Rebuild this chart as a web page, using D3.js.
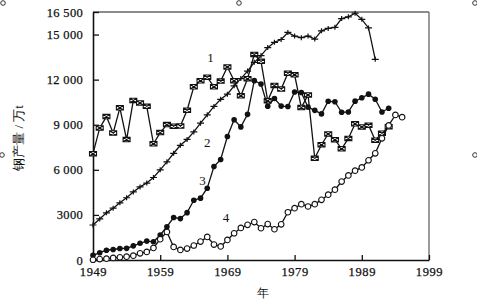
<!DOCTYPE html>
<html>
<head>
<meta charset="utf-8">
<script src="https://cdn.jsdelivr.net/npm/d3@7"></script>
<style>
  body { margin: 0; background: #fff; }
  svg { display: block; }
  text { font-family: "Liberation Serif", "DejaVu Serif", serif; fill: #111; }
</style>
</head>
<body>
<svg id="chart" width="477" height="308"></svg>
<script>
// steel output, 10k tonnes, one value per year from 1949
const startYear = 1949;
const usa = [7074, 8785, 9543, 8452, 10125, 8010, 10617, 10452, 10225, 7734,
  8477, 9007, 8904, 8915, 9962, 11526, 11926, 12165, 11526, 11901,
  12844, 11931, 10926, 12063, 13680, 13220, 10594, 11612, 11370, 12432,
  12323, 10145, 10985, 6766, 7670, 8390, 8007, 7401, 8088, 9060,
  8852, 8973, 7974, 8432, 8870];
const ussr = [2330, 2733, 3136, 3449, 3806, 4143, 4527, 4863, 5118, 5489,
  5998, 6529, 7100, 7630, 8023, 8520, 9102, 9660, 10220, 10690,
  11030, 11589, 12070, 12570, 13150, 13600, 14130, 14480, 14670, 15140,
  14900, 14790, 14900, 14700, 15250, 15410, 15480, 16060, 16180, 16420,
  16010, 15440, 13350];
const japan = [311, 484, 650, 699, 766, 775, 941, 1111, 1257, 1212,
  1663, 2214, 2827, 2755, 3150, 3980, 4116, 4778, 6215, 6689,
  8217, 9332, 8856, 9690, 11932, 11713, 10231, 10740, 10240, 10210,
  11175, 11140, 10168, 9955, 9722, 10559, 10528, 9828, 9851, 10568,
  10791, 11034, 10700, 9850, 10100];
const china = [16, 61, 90, 135, 177, 223, 285, 447, 535, 800,
  1387, 1866, 870, 667, 762, 964, 1223, 1532, 1029, 904,
  1333, 1779, 2132, 2338, 2522, 2112, 2390, 2046, 2374, 3178,
  3448, 3712, 3560, 3716, 4002, 4347, 4679, 5221, 5628, 5943,
  6159, 6635, 7100, 8094, 8956, 9650, 9500];

const yTicks = [0, 3000, 6000, 9000, 12000, 15000, 16500];
const yTickLabels = ["0", "3000", "6 000", "9 000", "12 000", "15 000", "16 500"];
const xTicks = [1949, 1959, 1969, 1979, 1989, 1999];
const seriesLabels = [
  {name: "1", year: 1966.5, value: 13200},
  {name: "2", year: 1966, value: 7500},
  {name: "3", year: 1965.3, value: 5000},
  {name: "4", year: 1968.8, value: 2550}
];

const svg = d3.select("#chart");
const x0 = 93, x1 = 429, y0 = 260, y1 = 12;

let x = d3.scaleLinear().domain([1949, 1999]).range([x0, x1]);
let y = d3.scaleLinear().domain([0, 16500]).range([y0, y1]);

// frame
svg.append("line").attr("x1", x0).attr("x2", x1).attr("y1", y1).attr("y2", y1)
    .attr("stroke", "#666").attr("stroke-width", 1.3);
svg.append("line").attr("x1", x1).attr("x2", x1).attr("y1", y1).attr("y2", y0)
    .attr("stroke", "#666").attr("stroke-width", 1.3);

let yAxis = d3.axisLeft(y).tickValues(yTicks).tickSizeInner(-6).tickSizeOuter(0)
    .tickPadding(10).tickFormat((d, i) => yTickLabels[i]);
let gy = svg.append("g").attr("transform", "translate(" + x0 + ",0)").call(yAxis);
gy.select(".domain").attr("stroke", "#111").attr("stroke-width", 1.6);
gy.selectAll(".tick line").attr("stroke", "#111").attr("stroke-width", 1.3);
gy.selectAll("text").attr("font-size", 12.5).attr("letter-spacing", "0.3px")
    .attr("fill", "#111").attr("stroke", "#111").attr("stroke-width", 0.25);

let xAxis = d3.axisBottom(x).tickValues(xTicks).tickSizeInner(-5).tickSizeOuter(0)
    .tickPadding(7).tickFormat(d3.format("d"));
let gx = svg.append("g").attr("transform", "translate(0," + y0 + ")").call(xAxis);
gx.select(".domain").attr("stroke", "#111").attr("stroke-width", 1.6);
gx.selectAll(".tick line").attr("stroke", "#111").attr("stroke-width", 1.3);
gx.selectAll("text").attr("font-size", 12.5).attr("letter-spacing", "0.6px")
    .attr("fill", "#111").attr("stroke", "#111").attr("stroke-width", 0.25);

// axis titles
svg.append("text").attr("x", 263).attr("y", 297).attr("text-anchor", "middle")
    .attr("font-size", 12).text("年");
svg.append("text").attr("transform", "translate(23,138) rotate(-90)")
    .attr("text-anchor", "middle").attr("font-size", 13).text("钢产量 / 万t");

function toPoints(values) {
    return values.map((v, i) => [startYear + i, v]);
}
let line = d3.line().x(d => x(d[0])).y(d => y(d[1]));

function drawSeries(values, marker) {
    let pts = toPoints(values);
    let g = svg.append("g");
    g.append("path").datum(pts).attr("d", line)
        .attr("fill", "none").attr("stroke", "#111").attr("stroke-width", 1.3);
    g.selectAll("g.m").data(pts).join("g")
        .attr("transform", d => "translate(" + x(d[0]) + "," + y(d[1]) + ")")
        .each(function() { marker(d3.select(this)); });
}

// 1: boxed cross
drawSeries(usa, m => {
    m.append("path").attr("d", "M-3.5,-2.2H3.5V2.2H-3.5Z M-3.5,-2.2L3.5,2.2 M-3.5,2.2L3.5,-2.2")
        .attr("fill", "#fff").attr("stroke", "#111").attr("stroke-width", 1.1);
});
// 2: plus
drawSeries(ussr, m => {
    m.append("path").attr("d", "M-3.5,0H3.5 M0,-2.5V2.5")
        .attr("stroke", "#111").attr("stroke-width", 1.2);
});
// 3: filled dot
drawSeries(japan, m => {
    m.append("circle").attr("r", 2.8).attr("fill", "#111");
});
// 4: open dot
drawSeries(china, m => {
    m.append("circle").attr("r", 2.8).attr("fill", "#fff")
        .attr("stroke", "#111").attr("stroke-width", 1.1);
});

svg.selectAll("text.lab").data(seriesLabels).join("text")
    .attr("class", "lab")
    .attr("x", d => x(d.year)).attr("y", d => y(d.value))
    .attr("text-anchor", "middle").attr("font-size", 13)
    .attr("fill", "#111")
    .text(d => d.name);

// corner handles
[[3, 3], [239, 3], [475, 3], [2, 155], [475, 155]].forEach(p => {
    svg.append("circle").attr("cx", p[0]).attr("cy", p[1]).attr("r", 2.3)
        .attr("fill", "#fff").attr("stroke", "#333").attr("stroke-width", 1);
});
</script>
</body>
</html>
